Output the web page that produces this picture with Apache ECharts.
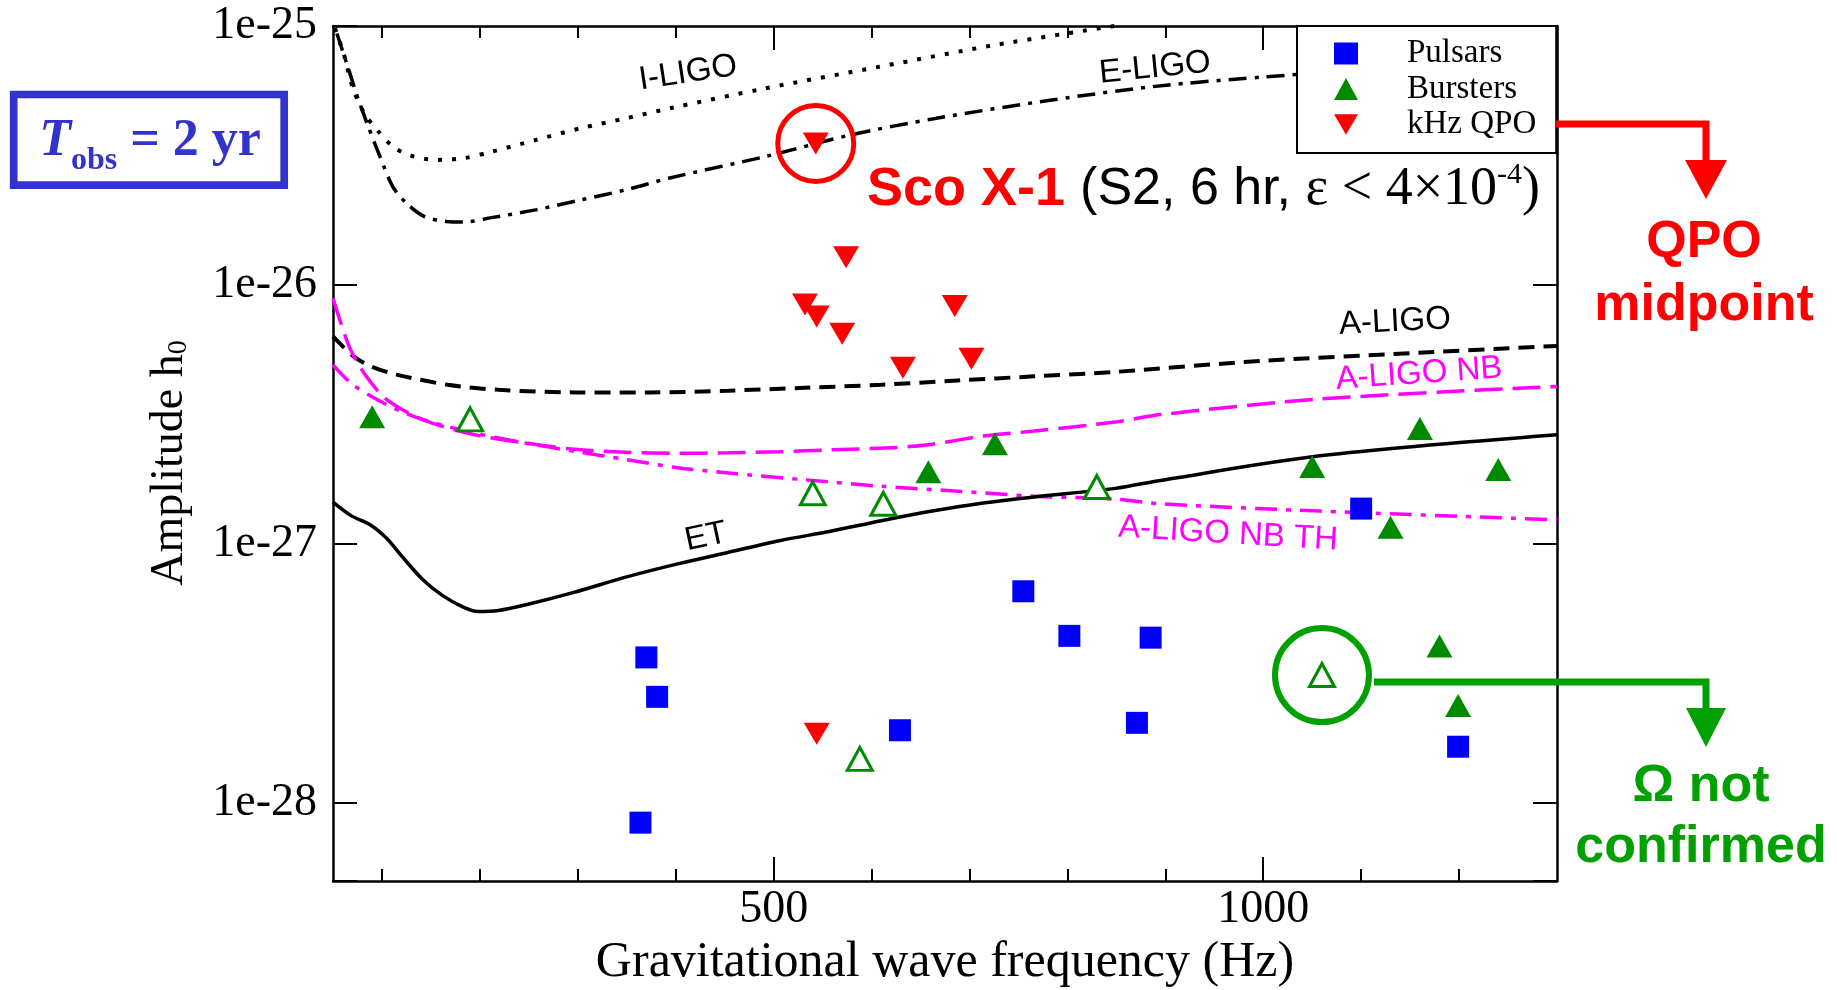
<!DOCTYPE html>
<html>
<head>
<meta charset="utf-8">
<title>Amplitude h0 vs gravitational wave frequency</title>
<script src="https://cdn.jsdelivr.net/npm/echarts@6/dist/echarts.min.js"></script>
<style>
  html, body { margin: 0; padding: 0; background: #fff; }
  #main { width: 1837px; height: 990px; }
</style>
</head>
<body>
<div id="main"></div>
<script>
// detector curves, [frequency (Hz), h0]
var iLigo = [[52, 9.8e-26], [61, 7.8e-26], [70, 5.8e-26], [82, 4.6e-26], [98, 3.85e-26], [111, 3.43e-26],
  [127, 3.18e-26], [155, 3.04e-26], [184, 3.09e-26], [212, 3.27e-26], [257, 3.63e-26], [303, 4.03e-26],
  [349, 4.4e-26], [394, 4.81e-26], [491, 5.74e-26], [608, 6.96e-26], [725, 8.43e-26], [848, 1.0e-25]];
var eLigo = [[54, 9.35e-26], [64, 7.17e-26], [75, 5.33e-26], [86, 4.09e-26], [98, 3.13e-26], [111, 2.4e-26],
  [125, 2.07e-26], [143, 1.84e-26], [166, 1.76e-26], [184, 1.75e-26], [212, 1.82e-26], [257, 1.95e-26],
  [303, 2.13e-26], [349, 2.33e-26], [394, 2.59e-26], [491, 3.13e-26], [579, 3.8e-26], [666, 4.4e-26],
  [784, 5.18e-26], [901, 5.91e-26], [1035, 6.5e-26]];
var aLigo = [[50, 6.33e-27], [71, 5.3e-27], [89, 4.85e-27], [115, 4.51e-27], [167, 4.12e-27], [219, 3.94e-27],
  [297, 3.85e-27], [375, 3.85e-27], [454, 3.91e-27], [532, 4.01e-27], [610, 4.12e-27], [688, 4.28e-27],
  [766, 4.44e-27], [849, 4.62e-27], [1000, 5.1e-27], [1150, 5.45e-27], [1300, 5.82e-27]];
var aLigoNB = [[50, 8.89e-27], [58, 7.13e-27], [68, 5.62e-27], [84, 4.44e-27], [105, 3.61e-27], [141, 3.03e-27],
  [193, 2.65e-27], [245, 2.46e-27], [297, 2.32e-27], [349, 2.26e-27], [402, 2.24e-27], [454, 2.25e-27],
  [506, 2.27e-27], [558, 2.31e-27], [626, 2.36e-27], [662, 2.43e-27], [714, 2.61e-27], [766, 2.73e-27],
  [849, 2.96e-27], [895, 3.16e-27], [1058, 3.63e-27], [1300, 4.06e-27]];
var aLigoNBTH = [[50, 4.92e-27], [68, 4.19e-27], [89, 3.72e-27], [115, 3.31e-27], [141, 3.03e-27], [193, 2.69e-27],
  [245, 2.46e-27], [297, 2.28e-27], [349, 2.12e-27], [402, 1.97e-27], [454, 1.88e-27], [532, 1.77e-27],
  [610, 1.67e-27], [688, 1.6e-27], [766, 1.53e-27], [849, 1.49e-27], [895, 1.43e-27], [1058, 1.34e-27],
  [1300, 1.24e-27]];
var et = [[50, 1.45e-27], [68, 1.29e-27], [89, 1.18e-27], [105, 1.05e-27], [120, 9.0e-28], [141, 7.33e-28],
  [162, 6.32e-28], [183, 5.71e-28], [198, 5.49e-28], [219, 5.54e-28], [245, 5.8e-28], [297, 6.52e-28],
  [349, 7.45e-28], [402, 8.38e-28], [454, 9.29e-28], [506, 1.03e-27], [558, 1.12e-27], [610, 1.23e-27],
  [662, 1.34e-27], [714, 1.44e-27], [766, 1.52e-27], [849, 1.64e-27], [895, 1.76e-27], [1058, 2.19e-27],
  [1300, 2.64e-27]];

// sources
var pulsars = [[370, 3.65e-28], [381, 2.57e-28], [364, 8.4e-29], [629, 1.91e-28], [755, 6.57e-28],
  [802, 4.42e-28], [871, 2.04e-28], [885, 4.35e-28], [1100, 1.37e-27], [1199, 1.65e-28]];
var bursters = [[90, 3.1e-27], [658, 1.9e-27], [726, 2.44e-27], [1050, 1.99e-27], [1130, 1.16e-27],
  [1160, 2.79e-27], [1240, 1.94e-27], [1180, 4.04e-28], [1199, 2.38e-28]];
var burstersOpen = [[190, 3.03e-27], [540, 1.57e-27], [612, 1.43e-27], [830, 1.66e-27], [588, 1.48e-28],
  [1060, 3.12e-28]];
var qpo = [[532, 8.4e-27], [544, 7.55e-27], [570, 6.48e-27], [632, 4.79e-27], [685, 8.3e-27], [702, 5.19e-27],
  [574, 1.28e-26], [543, 3.52e-26], [544, 1.85e-28]];
var scoX1 = [[543, 3.52e-26]];
var omegaNotConfirmed = [[1060, 3.12e-28]];

var xMinorTicks = [100, 200, 300, 400, 600, 700, 800, 900, 1100, 1200];
var xMajorTicks = [500, 1000];

// echarts rounds very small numbers to 0 on log axes, so plot h0 in units of 1e-28
var UNIT = 28;
function toUnits(arr) {
  return arr.map(function (d) { return [d[0], d[1] * Math.pow(10, UNIT)]; });
}

var serif = 'Liberation Serif';
var sans = 'Liberation Sans';
var green = '#008a00';
var magenta = '#ff00ff';

var myChart = echarts.init(document.getElementById('main'));

function xAx(pos, ticks, len, line, labels) {
  return {
    type: 'value', position: pos, min: 50, max: 1300,
    axisLine: { show: line, onZero: false, lineStyle: { color: '#000', width: 2.5 } },
    axisTick: { show: true, inside: true, length: len, customValues: ticks, lineStyle: { color: '#000', width: 2 } },
    axisLabel: labels ? {
      customValues: xMajorTicks, margin: 6, color: '#000', fontFamily: serif, fontSize: 46,
      formatter: function (v) { return String(v); }
    } : { show: false },
    splitLine: { show: false }
  };
}

function yAx(pos, labels) {
  return {
    type: 'log', logBase: 10, position: pos, min: 0.5, max: 1000,
    axisLine: { show: true, onZero: false, lineStyle: { color: '#000', width: 2.5 } },
    axisTick: { show: true, inside: true, length: 24, lineStyle: { color: '#000', width: 2 } },
    axisLabel: labels ? {
      margin: 16, color: '#000', fontFamily: serif, fontSize: 46,
      formatter: function (v) {
        var e = Math.log10(v);
        var r = Math.round(e);
        if (Math.abs(e - r) > 1e-6) return '';
        return '1e' + (r - UNIT);
      }
    } : { show: false },
    splitLine: { show: false },
    minorTick: { show: false }
  };
}

var xBottom = xAx('bottom', xMinorTicks, 12, true, true);
xBottom.name = 'Gravitational wave frequency (Hz)';
xBottom.nameLocation = 'middle';
xBottom.nameGap = 50;
xBottom.nameTextStyle = { color: '#000', fontFamily: serif, fontSize: 50 };

var yLeft = yAx('left', true);
yLeft.name = 'Amplitude h{s|0}';
yLeft.nameLocation = 'middle';
yLeft.nameRotate = 90;
yLeft.nameGap = 140;
yLeft.nameTextStyle = {
  color: '#000', fontFamily: serif, fontSize: 46, padding: [0, 19, 0, 0],
  rich: { s: { fontFamily: serif, fontSize: 28, verticalAlign: 'bottom', lineHeight: 28, color: '#000' } }
};

function curve(name, data, color, dash, width) {
  return {
    name: name, type: 'line', data: toUnits(data), showSymbol: false, smooth: 0.3,
    lineStyle: { color: color, width: width, type: dash },
    xAxisIndex: 0, yAxisIndex: 0, z: 2
  };
}

function curveLabel(text, x, y, deg, color) {
  return {
    type: 'text', x: x, y: y, rotation: deg * Math.PI / 180, z: 50,
    style: { text: text, fill: color, font: '33px "Liberation Sans"', align: 'center', verticalAlign: 'middle' }
  };
}

var option = {
  animation: false,
  backgroundColor: '#fff',
  grid: { left: 333, top: 26, width: 1224, height: 855, containLabel: false, outerBoundsMode: 'none' },
  xAxis: [
    xBottom,
    xAx('bottom', xMajorTicks, 24, false, false),
    xAx('top', xMinorTicks, 12, true, false),
    xAx('top', xMajorTicks, 24, false, false)
  ],
  yAxis: [yLeft, yAx('right', false)],
  legend: {
    data: [
      { name: 'Pulsars', icon: 'rect' },
      { name: 'Bursters', icon: 'triangle' },
      { name: 'kHz QPO', icon: 'path://M0,0L26,0L13,22Z' }
    ],
    orient: 'vertical', left: 1297, top: 26,
    padding: [11, 20, 12, 37],
    itemWidth: 24, itemHeight: 22, itemGap: 2.5,
    borderColor: '#000', borderWidth: 2, backgroundColor: '#fff',
    selectedMode: false,
    textStyle: { color: '#000', fontFamily: serif, fontSize: 33, lineHeight: 30, padding: [0, 0, 0, 44] }
  },
  series: [
    curve('I-LIGO', iLigo, '#000', [4, 10], 4),
    curve('E-LIGO', eLigo, '#000', [18, 8, 4, 8], 3.5),
    curve('A-LIGO', aLigo, '#000', [16, 9], 4),
    curve('A-LIGO NB', aLigoNB, magenta, [28, 10], 3.5),
    curve('A-LIGO NB TH', aLigoNBTH, magenta, [22, 9, 5, 9], 3.5),
    curve('ET', et, '#000', 'solid', 3.5),
    {
      name: 'Pulsars', type: 'scatter', data: toUnits(pulsars), symbol: 'rect', symbolSize: 22,
      itemStyle: { color: '#0000ff', opacity: 1 }, z: 5
    },
    {
      name: 'Bursters', type: 'scatter', data: toUnits(bursters), symbol: 'triangle', symbolSize: [26, 23],
      itemStyle: { color: green, opacity: 1 }, z: 5
    },
    {
      name: 'Bursters (unconfirmed)', type: 'scatter', data: toUnits(burstersOpen), symbol: 'triangle',
      symbolSize: [25, 23],
      itemStyle: { color: '#fff', borderColor: green, borderWidth: 3, opacity: 1 }, z: 5
    },
    {
      name: 'kHz QPO', type: 'scatter', data: toUnits(qpo), symbol: 'triangle', symbolRotate: 180,
      symbolSize: [26, 22],
      itemStyle: { color: '#ff0000', opacity: 1 }, z: 5
    },
    {
      name: 'Sco X-1 circle', type: 'scatter', data: toUnits(scoX1), symbol: 'circle', symbolSize: 76,
      itemStyle: { color: 'rgba(0,0,0,0)', borderColor: '#ff0000', borderWidth: 5, opacity: 1 }, z: 6
    },
    {
      name: 'Omega circle', type: 'scatter', data: toUnits(omegaNotConfirmed), symbol: 'circle', symbolSize: 94,
      itemStyle: { color: 'rgba(0,0,0,0)', borderColor: '#00a000', borderWidth: 6, opacity: 1 }, z: 6
    }
  ],
  graphic: [
    // T_obs box
    {
      type: 'rect', shape: { x: 13.7, y: 94.5, width: 270.5, height: 90.6 },
      style: { fill: '#fff', stroke: '#3333cc', lineWidth: 7.7 }, z: 50
    },
    {
      type: 'text', x: 150, y: 142, z: 51,
      style: {
        text: '{t|T}{s|obs}{r| = 2 yr}', align: 'center', verticalAlign: 'middle',
        rich: {
          t: { fill: '#3333cc', fontFamily: serif, fontSize: 52, fontWeight: 'bold', fontStyle: 'italic', lineHeight: 70 },
          s: { fill: '#3333cc', fontFamily: serif, fontSize: 32, fontWeight: 'bold', lineHeight: 32, verticalAlign: 'bottom' },
          r: { fill: '#3333cc', fontFamily: serif, fontSize: 52, fontWeight: 'bold', lineHeight: 70 }
        }
      }
    },
    // curve labels
    curveLabel('I-LIGO', 688, 73, 8.6, '#000'),
    curveLabel('E-LIGO', 1155, 68, 5.8, '#000'),
    curveLabel('A-LIGO', 1395, 322, 3, '#000'),
    curveLabel('A-LIGO NB', 1419, 374, 4, magenta),
    curveLabel('A-LIGO NB TH', 1228, 534, -3.4, magenta),
    curveLabel('ET', 706, 537, 12, '#000'),
    // Sco X-1 annotation
    {
      type: 'text', x: 867, y: 190, z: 51,
      style: {
        text: '{a|Sco X-1} {b|(S2, 6 hr, }{c|\u03b5 < 4\u00d710}{sup|-4}{c|)}',
        align: 'left', verticalAlign: 'middle', font: '54px "Liberation Sans"',
        rich: {
          a: { fill: '#ff0000', fontFamily: sans, fontSize: 54, fontWeight: 'bold', lineHeight: 60 },
          b: { fill: '#000', fontFamily: sans, fontSize: 52, lineHeight: 60 },
          c: { fill: '#000', fontFamily: serif, fontSize: 54, lineHeight: 60 },
          sup: { fill: '#000', fontFamily: serif, fontSize: 30, lineHeight: 30, verticalAlign: 'top' }
        }
      }
    },
    // QPO midpoint arrow
    {
      type: 'polyline', shape: { points: [[1556, 124], [1706, 124], [1706, 166]] },
      style: { stroke: '#ff0000', lineWidth: 7, fill: null }, z: 50
    },
    {
      type: 'polygon', shape: { points: [[1685, 160], [1727, 160], [1706, 199]] },
      style: { fill: '#ff0000' }, z: 50
    },
    {
      type: 'text', x: 1704, y: 243, z: 51,
      style: { text: 'QPO', fill: '#ff0000', font: 'bold 52px "Liberation Sans"', align: 'center', verticalAlign: 'middle' }
    },
    {
      type: 'text', x: 1704, y: 306, z: 51,
      style: { text: 'midpoint', fill: '#ff0000', font: 'bold 52px "Liberation Sans"', align: 'center', verticalAlign: 'middle' }
    },
    // Omega not confirmed arrow
    {
      type: 'polyline', shape: { points: [[1374, 682], [1706, 682], [1706, 714]] },
      style: { stroke: '#00a000', lineWidth: 7, fill: null }, z: 50
    },
    {
      type: 'polygon', shape: { points: [[1686, 708], [1726, 708], [1706, 747]] },
      style: { fill: '#00a000' }, z: 50
    },
    {
      type: 'text', x: 1701, y: 787, z: 51,
      style: { text: '\u03a9 not', fill: '#00a000', font: 'bold 52px "Liberation Sans"', align: 'center', verticalAlign: 'middle' }
    },
    {
      type: 'text', x: 1701, y: 848, z: 51,
      style: { text: 'confirmed', fill: '#00a000', font: 'bold 52px "Liberation Sans"', align: 'center', verticalAlign: 'middle' }
    }
  ]
};

myChart.setOption(option);
</script>
</body>
</html>
